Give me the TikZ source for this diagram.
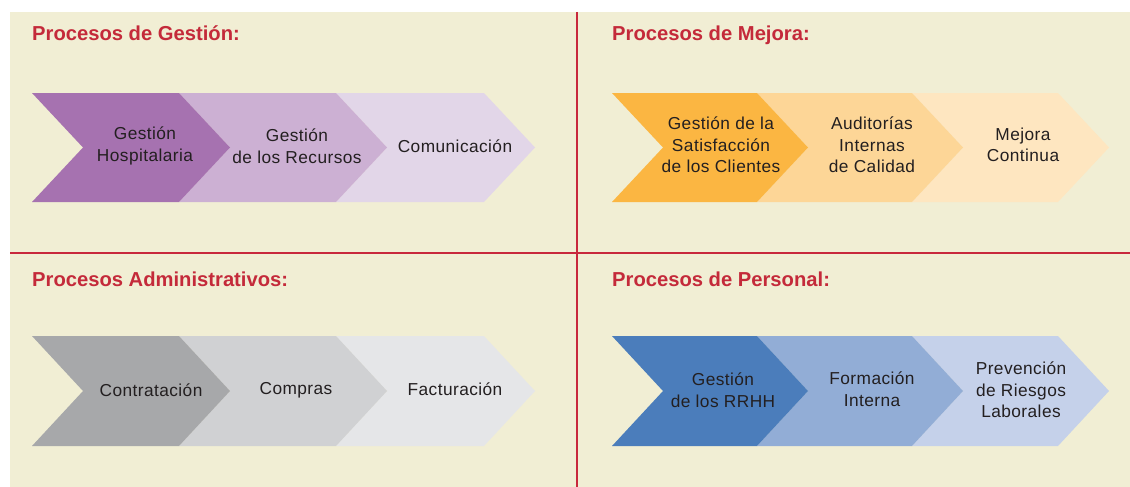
\documentclass[tikz,border=0pt]{standalone}
\usepackage{fontspec}
\setmainfont{Liberation Sans}
\newfontfamily\lblfont[LetterSpace=2.5]{Liberation Sans}
\definecolor{bg}{HTML}{F1EED4}
\definecolor{redline}{HTML}{C8283C}
\definecolor{titlered}{HTML}{C42A3A}
\definecolor{txt}{HTML}{231F20}
\definecolor{pA}{HTML}{A672B0}
\definecolor{pB}{HTML}{CCB0D3}
\definecolor{pC}{HTML}{E2D6E8}
\definecolor{oA}{HTML}{FBB642}
\definecolor{oB}{HTML}{FDD697}
\definecolor{oC}{HTML}{FEE6C0}
\definecolor{gA}{HTML}{A7A8AA}
\definecolor{gB}{HTML}{D0D1D3}
\definecolor{gC}{HTML}{E5E6E8}
\definecolor{bA}{HTML}{4B7DBB}
\definecolor{bB}{HTML}{92ADD6}
\definecolor{bC}{HTML}{C5D1EA}
\newcommand\mychev[5]{% xleft xright top bottom color
  \fill[#5] (#1,#3) -- (#2,#3) -- ({#2+51},{(#3+#4)/2}) -- (#2,#4) -- (#1,#4) -- ({#1+51},{(#3+#4)/2}) -- cycle;}
\tikzset{
  title/.style={anchor=base west, inner sep=0pt, text=titlered, font=\fontsize{20.2}{24}\selectfont\bfseries},
  lbl/.style={align=center, inner sep=0pt, text=txt, font=\lblfont\fontsize{17.3}{21.5}\selectfont},
}
\begin{document}
\begin{tikzpicture}[x=1pt,y=-1pt]
\useasboundingbox (0,0) rectangle (1130,487);
\fill[bg] (10,12) rectangle (1130,487);
\draw[redline, line width=2pt] (10,253) -- (1130,253);
\draw[redline, line width=2pt] (577,12) -- (577,487);
% titles
\node[title] (t1) at (32,41) {Procesos de Gestión:};
\node[title] (t2) at (612,41) {Procesos de Mejora:};
\node[title] (t3) at (32,286) {Procesos Administrativos:};
\node[title] (t4) at (612,286) {Procesos de Personal:};
% top-left chevrons
\mychev{336}{484}{93}{202}{pC}
\mychev{179}{336}{93}{202}{pB}
\mychev{32}{179}{93}{202}{pA}
% top-right
\mychev{912}{1058}{93}{202}{oC}
\mychev{757}{912}{93}{202}{oB}
\mychev{612}{757}{93}{202}{oA}
% bottom-left
\mychev{336}{484}{336}{446}{gC}
\mychev{179}{336}{336}{446}{gB}
\mychev{32}{179}{336}{446}{gA}
% bottom-right
\mychev{912}{1058}{336}{446}{bC}
\mychev{757}{912}{336}{446}{bB}
\mychev{612}{757}{336}{446}{bA}
% labels
\node[lbl] (g1) at (145,146) {Gestión\\Hospitalaria};
\node[lbl] (g2) at (297,146) {Gestión\\de los Recursos};
\node[lbl] (g3) at (455,146) {Comunicación};
\node[lbl] (m1) at (721,145) {Gestión de la\\Satisfacción\\de los Clientes};
\node[lbl] (m2) at (872,145) {Auditorías\\Internas\\de Calidad};
\node[lbl] (m3) at (1023,145) {Mejora\\Continua};
\node[lbl] (a1) at (151,390) {Contratación};
\node[lbl] (a2) at (296,390) {Compras};
\node[lbl] (a3) at (455,389) {Facturación};
\node[lbl] (r1) at (723,390) {Gestión\\de los RRHH};
\node[lbl] (r2) at (872,389) {Formación\\Interna};
\node[lbl] (r3) at (1021,390) {Prevención\\de Riesgos\\Laborales};
\end{tikzpicture}
\end{document}
